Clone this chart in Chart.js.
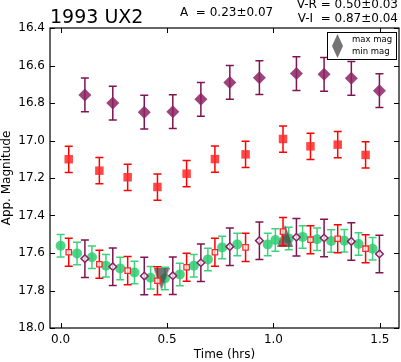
<!DOCTYPE html>
<html>
<head>
<meta charset="utf-8">
<script src="https://cdn.jsdelivr.net/npm/chart.js@4.4.1/dist/chart.umd.min.js"></script>
<style>
  html, body { margin: 0; padding: 0; background: #fff; }
  #wrap { position: relative; width: 401px; height: 362px; font-family: "DejaVu Sans", sans-serif; }
  #c { position: absolute; left: 0; top: 0; }
  .lbl { position: absolute; white-space: pre; color: #000; line-height: 1; }
</style>
</head>
<body>
<div id="wrap">
  <canvas id="c" width="401" height="362"></canvas>
  <div class="lbl" style="left:50px; top:7px; font-size:19px;">1993 UX2</div>
  <div class="lbl" style="left:180px; top:6px; font-size:12px;">A  = 0.23±0.07</div>
  <div class="lbl" style="right:3px; top:-2px; font-size:12px;">V-R = 0.50±0.03</div>
  <div class="lbl" style="right:3px; top:12px; font-size:12px;">V-I  = 0.87±0.04</div>
</div>
<script>
// I band (upper purple diamonds)
const iTime = [0.114, 0.245, 0.393, 0.527, 0.659, 0.795, 0.934, 1.108, 1.238, 1.366, 1.498];
const iMag  = [16.757, 16.800, 16.849, 16.846, 16.780, 16.690, 16.665, 16.643, 16.647, 16.668, 16.734];
const iErr  = [0.09, 0.09, 0.09, 0.09, 0.09, 0.09, 0.09, 0.09, 0.09, 0.09, 0.09];

// R band (upper red squares)
const rTime = [0.038, 0.182, 0.315, 0.455, 0.592, 0.725, 0.869, 1.045, 1.174, 1.302, 1.433];
const rMag  = [17.100, 17.161, 17.196, 17.248, 17.177, 17.099, 17.074, 16.992, 17.031, 17.022, 17.077];
const rErr  = [0.07, 0.07, 0.07, 0.07, 0.07, 0.07, 0.07, 0.07, 0.07, 0.07, 0.07];

// V band (green circles)
const vTime = [0.0, 0.077, 0.147, 0.213, 0.280, 0.347, 0.423, 0.490, 0.560, 0.626, 0.692,
               0.759, 0.830, 0.973, 1.009, 1.072, 1.137, 1.205, 1.271, 1.333, 1.400, 1.466];
const vMag  = [17.561, 17.602, 17.623, 17.668, 17.682, 17.704, 17.732, 17.736, 17.714, 17.668, 17.634,
               17.570, 17.554, 17.554, 17.531, 17.522, 17.514, 17.527, 17.536, 17.534, 17.552, 17.577];
const vErr  = [0.06, 0.06, 0.06, 0.06, 0.06, 0.06, 0.06, 0.06, 0.06, 0.06, 0.06,
               0.06, 0.06, 0.06, 0.06, 0.06, 0.06, 0.06, 0.06, 0.06, 0.06, 0.06];

// R and I shifted onto V (open markers)
const rShiftMag = [17.596, 17.660, 17.694, 17.748, 17.676, 17.596, 17.570, 17.486, 17.529, 17.524, 17.577];
const rShiftErr = [0.075, 0.075, 0.075, 0.075, 0.075, 0.075, 0.075, 0.075, 0.075, 0.075, 0.075];
const iShiftMag = [17.630, 17.673, 17.723, 17.721, 17.652, 17.566, 17.534, 17.516, 17.520, 17.538, 17.605];
const iShiftErr = [0.10, 0.10, 0.10, 0.10, 0.10, 0.10, 0.10, 0.10, 0.10, 0.10, 0.10];

// extrema markers
const maxTime = [1.055];
const maxMag  = [17.509];
const minTime = [0.474];
const minMag  = [17.739];

const xTicks = [0.0, 0.5, 1.0, 1.5];
const yTicks = [16.4, 16.6, 16.8, 17.0, 17.2, 17.4, 17.6, 17.8, 18.0];

const FONT = '"DejaVu Sans", sans-serif';
const pts = (t, m) => t.map((x, i) => ({ x, y: m[i] }));

function triangle(w, h, down) {
  const c = document.createElement('canvas');
  c.width = w; c.height = h;
  const g = c.getContext('2d');
  g.fillStyle = 'rgba(70,70,70,0.75)';
  g.beginPath();
  if (down) { g.moveTo(0, 0); g.lineTo(w, 0); g.lineTo(w / 2, h); }
  else { g.moveTo(w / 2, 0); g.lineTo(w, h); g.lineTo(0, h); }
  g.closePath();
  g.fill();
  return c;
}
const triUp = triangle(16, 22, false);
const triDown = triangle(16, 22, true);
const legUp = triangle(11, 12, false);
const legDown = triangle(11, 12, true);

const errorBars = {
  id: 'errorBars',
  beforeDatasetDraw(chart, args) {
    const ds = chart.data.datasets[args.index];
    if (!ds.errs) return;
    const { ctx, scales: { x, y } } = chart;
    ctx.save();
    ctx.strokeStyle = ds.barColor;
    ctx.lineWidth = 1.5;
    ds.data.forEach((p, i) => {
      const px = x.getPixelForValue(p.x);
      const y1 = y.getPixelForValue(p.y - ds.errs[i]);
      const y2 = y.getPixelForValue(p.y + ds.errs[i]);
      ctx.beginPath();
      ctx.moveTo(px, y1); ctx.lineTo(px, y2);
      ctx.moveTo(px - 4, y1); ctx.lineTo(px + 4, y1);
      ctx.moveTo(px - 4, y2); ctx.lineTo(px + 4, y2);
      ctx.stroke();
    });
    ctx.restore();
  }
};

const frame = {
  id: 'frame',
  afterDraw(chart) {
    const { ctx, chartArea: a, scales: { x, y } } = chart;
    ctx.save();
    ctx.strokeStyle = '#000';
    ctx.lineWidth = 1.2;
    ctx.strokeRect(a.left, a.top, a.right - a.left, a.bottom - a.top);
    ctx.lineWidth = 1;
    ctx.beginPath();
    xTicks.forEach(v => {
      const px = Math.round(x.getPixelForValue(v)) + 0.5;
      ctx.moveTo(px, a.bottom); ctx.lineTo(px, a.bottom - 5);
      ctx.moveTo(px, a.top); ctx.lineTo(px, a.top + 5);
    });
    yTicks.forEach(v => {
      const py = Math.round(y.getPixelForValue(v)) + 0.5;
      ctx.moveTo(a.left, py); ctx.lineTo(a.left + 5, py);
      ctx.moveTo(a.right, py); ctx.lineTo(a.right - 5, py);
    });
    ctx.stroke();

    // legend box
    const bx = a.right - 72, by = a.top + 4, bw = 69, bh = 27;
    ctx.fillStyle = '#fff';
    ctx.fillRect(bx, by, bw, bh);
    ctx.strokeStyle = '#000';
    ctx.strokeRect(bx + 0.5, by + 0.5, bw, bh);
    ctx.drawImage(legUp, bx + 5, by + 2);
    ctx.drawImage(legDown, bx + 5, by + 14);
    ctx.fillStyle = '#000';
    ctx.font = '8.5px ' + FONT;
    ctx.textBaseline = 'middle';
    ctx.fillText('max mag', bx + 25, by + 8);
    ctx.fillText('min mag', bx + 25, by + 20);
    ctx.restore();
  }
};

new Chart(document.getElementById('c'), {
  type: 'scatter',
  data: {
    datasets: [
      {
        label: 'I shifted', data: pts(iTime, iShiftMag), errs: iShiftErr, barColor: 'rgb(128,20,82)',
        pointStyle: 'rectRot', pointRadius: 3.8, borderWidth: 1.5,
        borderColor: 'rgb(140,35,100)', backgroundColor: 'rgba(255,255,255,0.7)'
      },
      {
        label: 'R shifted', data: pts(rTime, rShiftMag), errs: rShiftErr, barColor: 'rgb(255,0,0)',
        pointStyle: 'rect', pointRadius: 3.8, borderWidth: 1.3,
        borderColor: 'rgb(255,40,40)', backgroundColor: 'rgba(255,255,255,0.7)'
      },
      {
        label: 'max mag', data: pts(maxTime, maxMag), pointStyle: triUp, pointRadius: 8
      },
      {
        label: 'min mag', data: pts(minTime, minMag), pointStyle: triDown, pointRadius: 8
      },
      {
        label: 'V', data: pts(vTime, vMag), errs: vErr, barColor: 'rgba(40,205,110,0.9)',
        pointStyle: 'circle', pointRadius: 5, borderWidth: 0,
        backgroundColor: 'rgba(46,204,113,0.85)'
      },
      {
        label: 'R', data: pts(rTime, rMag), errs: rErr, barColor: 'rgb(255,0,0)',
        pointStyle: 'rect', pointRadius: 6, borderWidth: 0,
        backgroundColor: 'rgba(255,40,40,0.85)'
      },
      {
        label: 'I', data: pts(iTime, iMag), errs: iErr, barColor: 'rgb(128,20,82)',
        pointStyle: 'rectRot', pointRadius: 6.5, borderWidth: 0,
        backgroundColor: 'rgba(140,35,100,0.85)'
      }
    ]
  },
  options: {
    responsive: false,
    animation: false,
    layout: { autoPadding: false, padding: { left: 0, right: 2, top: 28, bottom: 0 } },
    plugins: {
      legend: { display: false },
      tooltip: { enabled: false }
    },
    scales: {
      x: {
        type: 'linear',
        min: -0.05,
        max: 1.59,
        afterBuildTicks: s => { s.ticks = xTicks.map(value => ({ value })); },
        afterFit: s => { s.height = 34; s.paddingLeft = 0; s.paddingRight = 0; },
        grid: { display: false, drawTicks: false },
        border: { display: false },
        ticks: {
          autoSkip: false, maxRotation: 0, padding: 5, color: '#000',
          font: { family: FONT, size: 12 },
          callback: v => v.toFixed(1)
        },
        title: {
          display: true, text: 'Time (hrs)', color: '#000',
          font: { family: FONT, size: 12 }, padding: 0
        }
      },
      y: {
        type: 'linear',
        reverse: true,
        min: 16.4,
        max: 18.0,
        afterBuildTicks: s => { s.ticks = yTicks.map(value => ({ value })); },
        afterFit: s => { s.width = 50; s.paddingTop = 0; s.paddingBottom = 0; },
        grid: { display: false, drawTicks: false },
        border: { display: false },
        ticks: {
          autoSkip: false, padding: 5, color: '#000',
          font: { family: FONT, size: 12 },
          callback: v => v.toFixed(1)
        },
        title: {
          display: true, text: 'App. Magnitude', color: '#000',
          font: { family: FONT, size: 12 }, padding: 0
        }
      }
    }
  },
  plugins: [errorBars, frame]
});
</script>
</body>
</html>
